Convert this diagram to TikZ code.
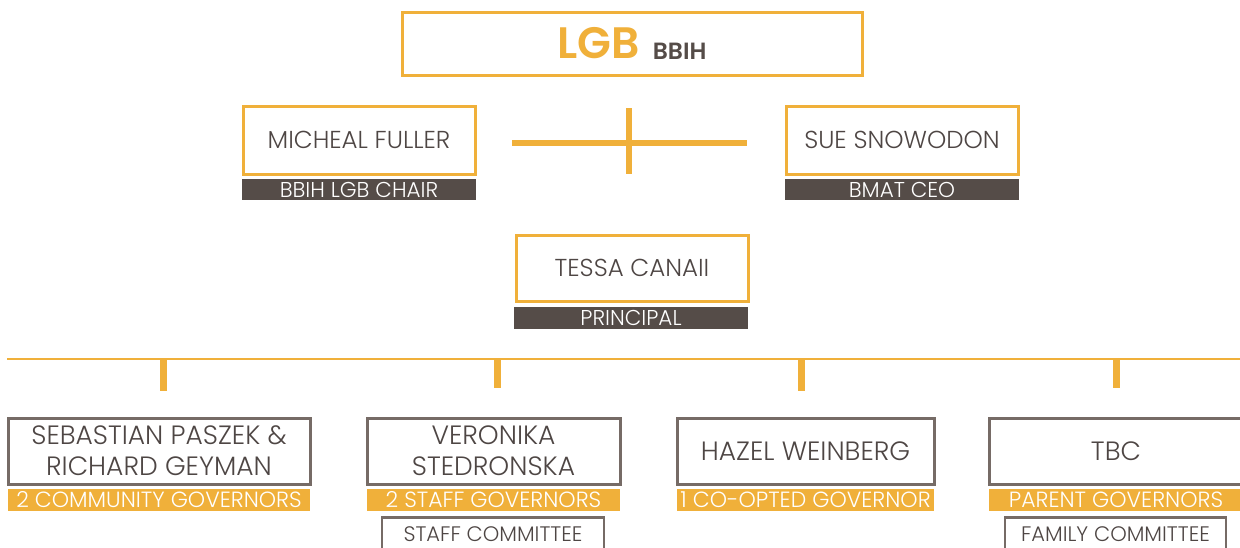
\documentclass[tikz,border=0pt]{standalone}
\usepackage{fontspec}
\setmainfont{Poppins}[UprightFont={* Light}, BoldFont={* SemiBold}]
\definecolor{gold}{HTML}{F0B03A}
\definecolor{umber}{HTML}{554C48}
\definecolor{ink}{HTML}{4E4644}
\definecolor{frame}{HTML}{766B66}
\tikzset{
  lead/.style={draw=gold, line width=3pt, fill=white, text=ink, font=\fontsize{24.5}{28}\selectfont, inner sep=0pt},
  role/.style={fill=umber, text=white, font=\fontsize{21.5}{24}\selectfont, inner sep=0pt, minimum height=21pt},
  member/.style={draw=frame, line width=3pt, fill=white, text=ink, font=\fontsize{26.5}{31}\selectfont, align=center, inner sep=0pt},
  seat/.style={fill=gold, text=white, font=\fontsize{22}{25}\selectfont, inner sep=0pt, minimum height=22pt},
  committee/.style={draw=frame, line width=2.5pt, fill=white, text=ink, font=\fontsize{21}{24}\selectfont, inner sep=0pt},
  bar/.style={draw=gold, line width=6pt},
  rail/.style={draw=gold, line width=2.5pt},
  stub/.style={draw=gold, line width=7pt},
}
\begin{document}
\begin{tikzpicture}[x=1pt, y=-1pt]
\useasboundingbox (0,0) rectangle (1240,547);

% board title
\node[lead, line width=3pt, minimum width=460pt, minimum height=63pt] (lgb) at (632,43.5)
  {\textcolor{gold}{\fontsize{44}{48}\selectfont\bfseries LGB}\hspace{13pt}\raisebox{-1pt}{\textcolor{umber}{\fontsize{23.5}{27}\selectfont\bfseries BBIH}}};

% chair and CEO
\node[lead, minimum width=232pt, minimum height=68pt] (chair) at (359,140) {MICHEAL FULLER};
\node[role, minimum width=234pt] (chairrole) at (359,189.5) {BBIH LGB CHAIR};
\node[lead, minimum width=232pt, minimum height=68pt] (ceo) at (902,140) {SUE SNOWODON};
\node[role, minimum width=234pt] (ceorole) at (902,189.5) {BMAT CEO};

% link between chair and CEO
\coordinate (linkw) at (512,143);
\coordinate (linke) at (747,143);
\coordinate (linkn) at (629,108);
\coordinate (links) at (629,174);
\draw[bar] (linkw) -- (linke);
\draw[bar] (linkn) -- (links);

% principal
\node[lead, minimum width=232pt, minimum height=66pt] (principal) at (632,268) {TESSA CANAII};
\node[role, minimum width=234pt, minimum height=22pt] (principalrole) at (631,318) {PRINCIPAL};

% governor rail
\coordinate (railw) at (7,359);
\coordinate (raile) at (1240,359);
\draw[rail] (railw) -- (raile);
\foreach \n/\x/\y in {a/163/391, b/497/388, c/801/391, d/1116/388} {
  \coordinate (top\n) at (\x,359);
  \coordinate (end\n) at (\x,\y);
  \draw[stub] (top\n) -- (end\n);
}

% governors
\node[member, minimum width=302pt, minimum height=66pt] (community) at (159,451)
  {SEBASTIAN PASZEK \&\\RICHARD GEYMAN};
\node[seat, minimum width=302pt] (communityseat) at (159,500) {2 COMMUNITY GOVERNORS};

\node[member, minimum width=253pt, minimum height=66pt] (staff) at (493.5,451)
  {VERONIKA\\STEDRONSKA};
\node[seat, minimum width=253pt] (staffseat) at (493.5,500) {2 STAFF GOVERNORS};
\node[committee, minimum width=222pt, minimum height=34pt, anchor=north] (staffcom) at (493,516) {STAFF COMMITTEE};

\node[member, minimum width=257pt, minimum height=66pt] (coopted) at (805.5,451) {HAZEL WEINBERG};
\node[seat, minimum width=257pt] (cooptedseat) at (805.5,500) {1 CO-OPTED GOVERNOR};

\node[member, minimum width=254pt, minimum height=66pt] (parent) at (1116,451) {TBC};
\node[seat, minimum width=254pt] (parentseat) at (1116,500) {PARENT GOVERNORS};
\node[committee, minimum width=221pt, minimum height=34pt, anchor=north] (familycom) at (1115.5,516) {FAMILY COMMITTEE};
\end{tikzpicture}
\end{document}
